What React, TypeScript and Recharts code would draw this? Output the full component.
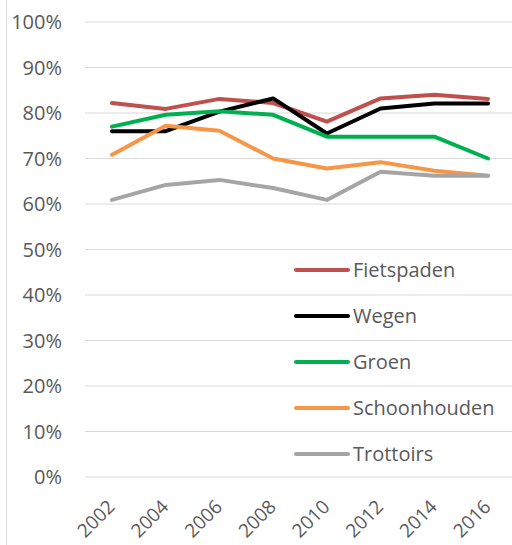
import { LineChart, Line, XAxis, YAxis, CartesianGrid, Legend } from "recharts";

const years = ["2002", "2004", "2006", "2008", "2010", "2012", "2014", "2016"];
const fietspaden = [82.2, 80.9, 83.1, 82.2, 78.1, 83.2, 84.0, 83.1];
const wegen = [76.0, 76.0, 80.3, 83.2, 75.5, 81.0, 82.1, 82.1];
const groen = [77.0, 79.6, 80.4, 79.6, 74.8, 74.8, 74.8, 70.0];
const schoonhouden = [70.8, 77.2, 76.1, 70.0, 67.8, 69.2, 67.3, 66.2];
const trottoirs = [60.9, 64.2, 65.3, 63.5, 60.9, 67.1, 66.2, 66.2];
const yTicks = [0, 10, 20, 30, 40, 50, 60, 70, 80, 90, 100];

const series = [
  { key: "Fietspaden", color: "#c0504d" },
  { key: "Wegen", color: "#000000" },
  { key: "Groen", color: "#00b050" },
  { key: "Schoonhouden", color: "#f79646" },
  { key: "Trottoirs", color: "#a5a5a5" },
];

const data = years.map((year, i) => ({
  year,
  Fietspaden: fietspaden[i],
  Wegen: wegen[i],
  Groen: groen[i],
  Schoonhouden: schoonhouden[i],
  Trottoirs: trottoirs[i],
}));

const FONT = "'Open Sans', sans-serif";
const TEXT = "#595959";

function YearTick({ x, y, payload }: any) {
  const tx = x + 4;
  const ty = y + 29;
  return (
    <text
      x={tx}
      y={ty}
      transform={`rotate(-45, ${tx}, ${ty})`}
      textAnchor="end"
      fill={TEXT}
      fontSize={19}
      fontFamily={FONT}
    >
      {payload.value}
    </text>
  );
}

function LegendBox() {
  return (
    <div>
      {series.map((s) => (
        <div key={s.key} style={{ display: "flex", alignItems: "center", height: 46 }}>
          <div style={{ width: 56, height: 4, borderRadius: 2, background: s.color, marginRight: 3 }} />
          <span style={{ fontFamily: FONT, fontSize: 20, color: TEXT, lineHeight: "20px" }}>{s.key}</span>
        </div>
      ))}
    </div>
  );
}

export default function App() {
  return (
    <div style={{ position: "absolute", left: 0, top: 0, width: 512, height: 545, background: "#fff", overflow: "hidden" }}>
      <div style={{ position: "absolute", left: 6, top: 0, width: 1, height: 545, background: "#d9d9d9" }} />
      <LineChart width={512} height={545} data={data} margin={{ top: 22, right: 0, bottom: 28, left: 25 }}>
        <CartesianGrid vertical={false} stroke="#d9d9d9" strokeWidth={1} />
        <XAxis
          dataKey="year"
          height={40}
          axisLine={false}
          tickLine={false}
          tickSize={0}
          interval={0}
          padding={{ left: 27, right: 24 }}
          tick={<YearTick />}
        />
        <YAxis
          width={60}
          domain={[0, 100]}
          ticks={yTicks}
          interval={0}
          axisLine={false}
          tickLine={false}
          tickSize={0}
          tickMargin={23}
          tickFormatter={(v) => `${v}%`}
          tick={{ fill: TEXT, fontSize: 20, fontFamily: FONT }}
        />
        <Legend
          layout="horizontal"
          verticalAlign="middle"
          align="center"
          content={<LegendBox />}
          wrapperStyle={{ position: "absolute", left: 294, top: 247, width: 220, bottom: "auto", right: "auto" }}
        />
        {series.map((s) => (
          <Line
            key={s.key}
            type="linear"
            dataKey={s.key}
            stroke={s.color}
            strokeWidth={4}
            strokeLinecap="round"
            strokeLinejoin="round"
            dot={false}
            activeDot={false}
            isAnimationActive={false}
          />
        ))}
      </LineChart>
    </div>
  );
}
